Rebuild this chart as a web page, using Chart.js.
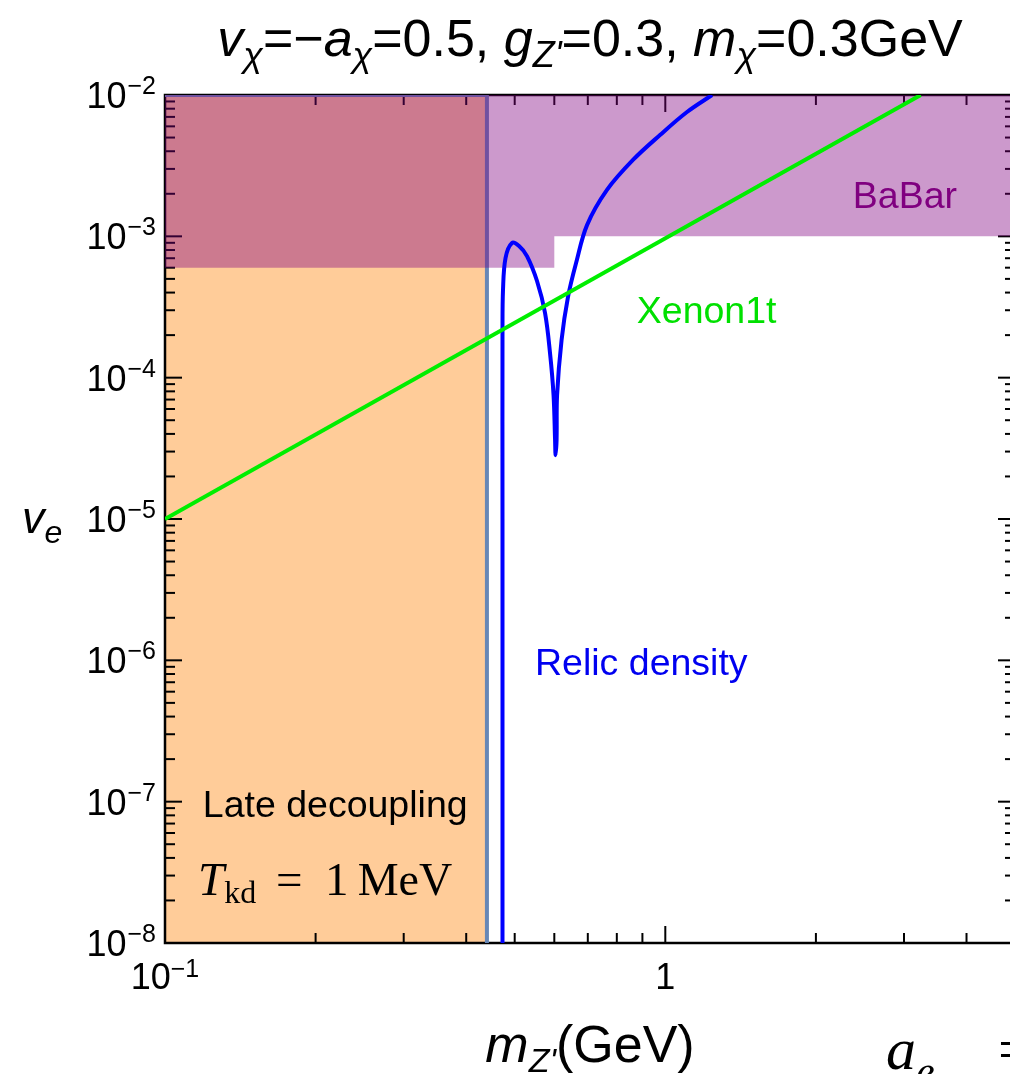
<!DOCTYPE html>
<html>
<head>
<meta charset="utf-8">
<script src="https://cdn.jsdelivr.net/npm/chart.js@4.4.1/dist/chart.umd.min.js"></script>
<style>
html,body{margin:0;padding:0;background:#fff;overflow:hidden}
#wrap{width:1040px;height:1074px}
</style>
</head>
<body>
<div id="wrap"><canvas id="c" width="1040" height="1074"></canvas></div>
<script>
// axis ranges (GeV on x, coupling on y)
const xMin=0.1,xMax=5
const yMin=1e-8,yMax=1e-2
const xMajorTicks=[0.1,1]
const xMinorTicks=[0.2,0.3,0.4,0.5,0.6,0.7,0.8,0.9,2,3,4,5]
const yDecades=[-8,-7,-6,-5,-4,-3,-2]
const xTickLabels=[{v:0.1,base:"10",exp:"−1"},{v:1,base:"1",exp:""}]

// late kinetic decoupling region (T_kd = 1 MeV)
const lateX=[0.1,0.44]
const lateY=[1e-2,1e-2]
const lateEdgeX=[0.1,0.44,0.44]
const lateEdgeY=[1e-2,1e-2,1e-8]

// BaBar exclusion, lower edge
const babarX=[0.1,0.6,0.6,5]
const babarY=[6e-4,6e-4,1e-3,1e-3]

// Xenon1t bound
const xenonX=[0.1,3.24]
const xenonY=[1e-5,1e-2]

// relic density contour
const relicX=[0.4727,0.4727,0.4727,0.4738,0.4793,0.4938,0.5101,0.5291,0.5541,0.5749,0.5883,0.5979,0.6021,0.6035,0.6063,0.6077,0.6204,0.6389,0.6632,0.6975,0.7646,0.8617,0.9759,1.105,1.24]
const relicY=[1e-8,1e-5,2.17e-4,4.17e-4,7.02e-4,8.97e-4,8.54e-4,7.25e-4,4.83e-4,2.87e-4,1.49e-4,7.53e-5,3.62e-5,2.83e-5,3.62e-5,7.53e-5,1.85e-4,3.72e-4,6.47e-4,1.2e-3,2.13e-3,3.47e-3,5.21e-3,7.58e-3,1e-2]

// in-plot labels, anchored at data coordinates (left edge, baseline)
const notes=[
{t:"BaBar",x:2.37,y:1.59e-3,c:"#800080"},
{t:"Xenon1t",x:0.877,y:2.42e-4,c:"#00E000"},
{t:"Relic density",x:0.549,y:7.86e-7,c:"#0000F0"},
{t:"Late decoupling",x:0.119,y:7.8e-8,c:"#000"}
]

const sans='"Liberation Sans", Arial, sans-serif'
const serif='"Liberation Serif", "Times New Roman", serif'
const F=(size,it,fam)=>(it?"italic ":"")+size+"px "+(fam||sans)

function pts(xs,ys){return xs.map((x,i)=>({x:x,y:ys[i]}))}

function drawRich(ctx,segs,x,y,align){
let w=0
segs.forEach(s=>{ctx.font=s.f;w+=ctx.measureText(s.t).width})
let cx=align==="center"?x-w/2:align==="right"?x-w:x
ctx.textAlign="left"
ctx.textBaseline="alphabetic"
segs.forEach(s=>{
ctx.font=s.f
ctx.fillStyle=s.c||"#000"
ctx.fillText(s.t,cx,y+(s.dy||0))
cx+=ctx.measureText(s.t).width
})
}

// frame and inward ticks, drawn right after the orange area so BaBar tints them
const framePlugin={
id:"frame",
afterDatasetDraw(chart,args){
if(args.index!==0)return
const ctx=chart.ctx
const a=chart.chartArea
const xs=chart.scales.x,ys=chart.scales.y
ctx.save()
ctx.strokeStyle="#000"
ctx.lineWidth=2.5
ctx.strokeRect(a.left,a.top,a.right-a.left,a.bottom-a.top)
ctx.lineWidth=2
const tick=(x1,y1,x2,y2)=>{ctx.beginPath();ctx.moveTo(x1,y1);ctx.lineTo(x2,y2);ctx.stroke()}
xMajorTicks.forEach(v=>{
const p=xs.getPixelForValue(v)
tick(p,a.bottom,p,a.bottom-17)
tick(p,a.top,p,a.top+17)
})
xMinorTicks.forEach(v=>{
const p=xs.getPixelForValue(v)
tick(p,a.bottom,p,a.bottom-10)
tick(p,a.top,p,a.top+10)
})
yDecades.forEach(e=>{
const base=Math.pow(10,e)
let p=ys.getPixelForValue(base)
tick(a.left,p,a.left+17,p)
tick(a.right,p,a.right-17,p)
if(e<-2){
for(let k=2;k<=9;k++){
p=ys.getPixelForValue(k*base)
tick(a.left,p,a.left+10,p)
tick(a.right,p,a.right-10,p)
}
}
})
ctx.restore()
}
}

const textPlugin={
id:"texts",
afterDraw(chart){
const ctx=chart.ctx
const a=chart.chartArea
const xs=chart.scales.x,ys=chart.scales.y
ctx.save()

// y tick labels
yDecades.forEach(e=>{
const p=ys.getPixelForValue(Math.pow(10,e))
ctx.font=F(25)
const sup="−"+Math.abs(e)
const sw=ctx.measureText(sup).width
drawRich(ctx,[{t:sup,f:F(25)}],156,p-1,"right")
drawRich(ctx,[{t:"10",f:F(36)}],156-sw-1,p+13,"right")
})

// x tick labels
xTickLabels.forEach(l=>{
const p=xs.getPixelForValue(l.v)
const segs=[{t:l.base,f:F(36)}]
if(l.exp)segs.push({t:l.exp,f:F(25),dy:-12})
drawRich(ctx,segs,p,989,"center")
})

// in-plot notes
notes.forEach(n=>{
drawRich(ctx,[{t:n.t,f:F(37.5),c:n.c}],xs.getPixelForValue(n.x),ys.getPixelForValue(n.y),"left")
})
const tx=xs.getPixelForValue(0.1164),ty=ys.getPixelForValue(2.18e-8)
drawRich(ctx,[{t:"T",f:F(47,true,serif)},{t:"kd",f:F(32,false,serif),dy:8}],tx,ty,"left")
drawRich(ctx,[{t:"=",f:F(47,false,serif)}],tx+78,ty,"left")
drawRich(ctx,[{t:"1",f:F(47,false,serif)},{t:"\u2009MeV",f:F(46,false,serif)}],tx+127,ty,"left")

// title
const cx=(a.left+a.right)/2
const S=52,s=36,d=11
drawRich(ctx,[
{t:"v",f:F(S,true)},{t:"χ",f:F(s,true),dy:d},{t:"=−",f:F(S)},
{t:"a",f:F(S,true)},{t:"χ",f:F(s,true),dy:d},{t:"=0.5, ",f:F(S)},
{t:"g",f:F(S,true)},{t:"Z'",f:F(s,true),dy:d},{t:"=0.3, ",f:F(S)},
{t:"m",f:F(S,true)},{t:"χ",f:F(s,true),dy:d},{t:"=0.3GeV",f:F(S)}
],cx,56,"center")

// axis titles
drawRich(ctx,[{t:"m",f:F(52,true)},{t:"Z'",f:F(34,true),dy:10},{t:"(GeV)",f:F(52)}],cx,1062,"center")
drawRich(ctx,[{t:"v",f:F(45,true)},{t:"e",f:F(32,true),dy:10}],22,533,"left")

// cut-off formula at the lower right
drawRich(ctx,[{t:"a",f:F(60,true,serif)},{t:"e",f:F(42,true,serif),dy:16}],886,1069,"left")
drawRich(ctx,[{t:"=",f:F(60,false,serif)}],998,1069,"left")

ctx.restore()
}
}

new Chart(document.getElementById("c"),{
type:"line",
data:{datasets:[
{data:pts(lateX,lateY),borderColor:"transparent",borderWidth:0,pointRadius:0,fill:"start",backgroundColor:"#FFCC99",order:6},
{data:pts(lateEdgeX,lateEdgeY),borderColor:"#6787B6",borderWidth:4,pointRadius:0,fill:false,order:5},
{data:pts(babarX,babarY),borderColor:"transparent",borderWidth:0,pointRadius:0,fill:"end",backgroundColor:"rgba(128,0,128,0.4)",order:4},
{data:pts(relicX,relicY),borderColor:"#0000FF",borderWidth:4,pointRadius:0,tension:0.35,fill:false,order:2},
{data:pts(xenonX,xenonY),borderColor:"#00EE00",borderWidth:4,pointRadius:0,fill:false,order:1}
]},
options:{
responsive:false,
animation:false,
devicePixelRatio:1,
layout:{padding:{left:165,top:95,right:25,bottom:131}},
plugins:{legend:{display:false},tooltip:{enabled:false}},
scales:{
x:{type:"logarithmic",min:xMin,max:xMax,display:false},
y:{type:"logarithmic",min:yMin,max:yMax,display:false}
}
},
plugins:[framePlugin,textPlugin]
})
</script>
</body>
</html>
